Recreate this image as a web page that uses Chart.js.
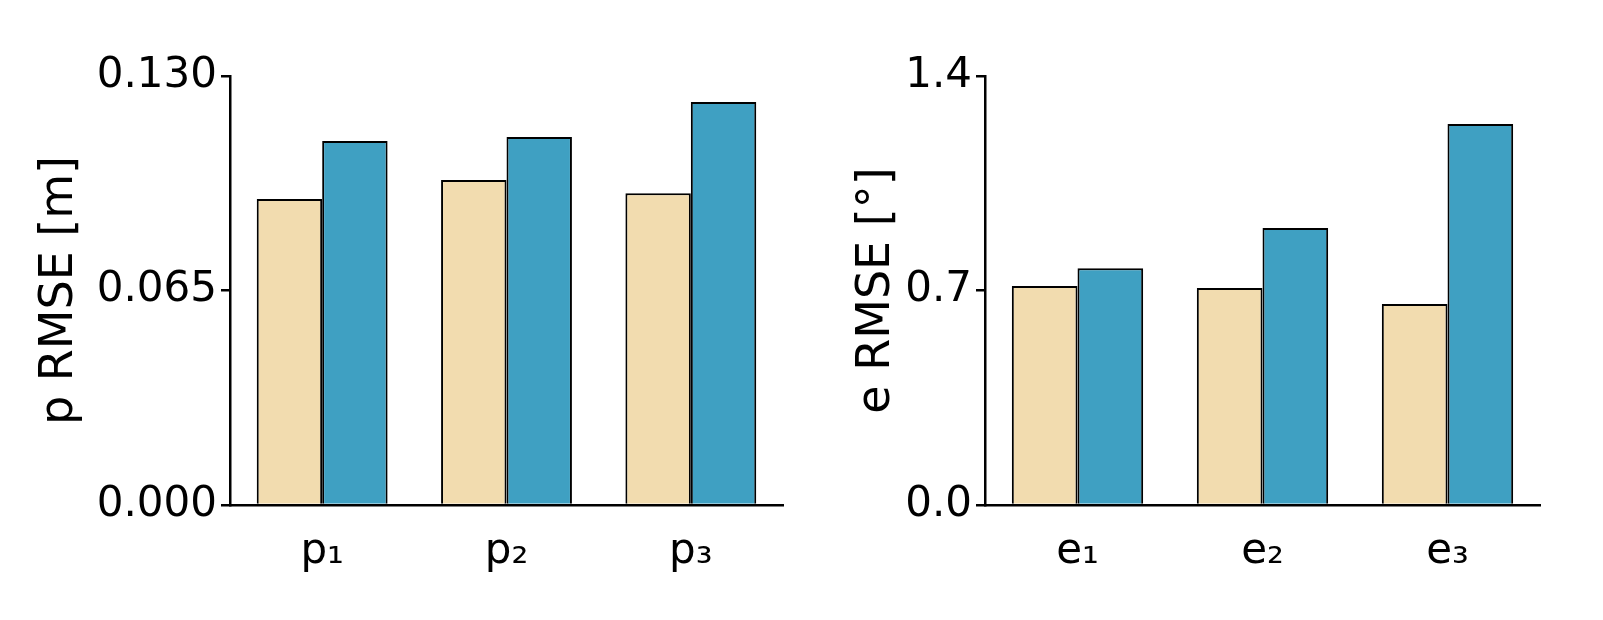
<!DOCTYPE html>
<html><head><script src="https://cdn.jsdelivr.net/npm/chart.js@4"></script>
<style>body{margin:0;background:#fff;width:1603px;height:620px;position:relative;overflow:hidden}
.c{position:absolute;top:0;width:800px;height:620px}</style></head>
<body>
<div class="c" style="left:0"><canvas id="a"></canvas></div>
<div class="c" style="left:760px"><canvas id="b"></canvas></div>
<script>
const pLabels=['p\u2081','p\u2082','p\u2083'];
const pBeige=[0.0927,0.0985,0.0945];
const pBlue=[0.1103,0.1115,0.1221];
const pTicks=[0,0.065,0.13];
const eLabels=['e\u2081','e\u2082','e\u2083'];
const eBeige=[0.715,0.708,0.656];
const eBlue=[0.773,0.904,1.243];
const eTicks=[0,0.7,1.4];
const font={family:'DejaVu Sans',size:42};
function mk(id,labels,b1,b2,max,step,dec,title,lp,yw,rp){
 new Chart(document.getElementById(id),{type:'bar',
 data:{labels,datasets:[
  {data:b1,backgroundColor:'#F2DCAF',borderColor:'#000',borderWidth:2},
  {data:b2,backgroundColor:'#3FA0C2',borderColor:'#000',borderWidth:2}]},
 options:{responsive:false,animation:false,devicePixelRatio:1,
  layout:{padding:{top:76,right:rp,left:lp,bottom:0}},
  plugins:{legend:{display:false},tooltip:{enabled:false}},
  datasets:{bar:{categoryPercentage:0.71,barPercentage:1}},
  scales:{
   x:{grid:{display:false,drawTicks:false},border:{color:'#000',width:2.5},
      ticks:{color:'#000',font,padding:22},afterFit:s=>{s.height=115}},
   y:{min:0,max:max,grid:{drawOnChartArea:false,tickLength:9,color:'#000',lineWidth:2.5},
      border:{color:'#000',width:2.5},
      ticks:{color:'#000',font,stepSize:step,padding:4,callback:v=>Number(v).toFixed(dec)},
      title:{display:true,text:title,color:'#000',font:{family:'DejaVu Sans',size:46},padding:4},
      afterFit:s=>{s.width=yw}}
  }}});
}
const ca=document.getElementById('a');ca.width=800;ca.height=620;
const cb=document.getElementById('b');cb.width=800;cb.height=620;
mk('a',pLabels,pBeige,pBlue,0.13,0.065,3,'p RMSE [m]',28,202,17);
mk('b',eLabels,eBeige,eBlue,1.4,0.7,1,'e RMSE [\u00b0]',85,140,20);
</script></body></html>
